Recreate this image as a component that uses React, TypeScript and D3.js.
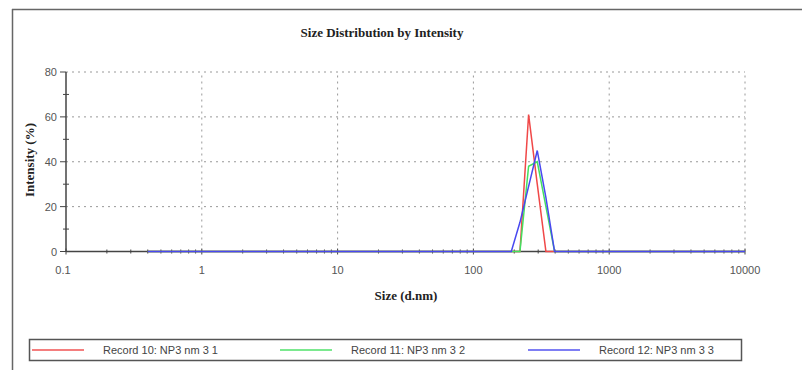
import React from "react";
import * as d3 from "d3";

const sizes = [0.4, 0.4632, 0.5365, 0.6213, 0.7195, 0.8332, 0.9649, 1.117, 1.294, 1.499,
  1.736, 2.01, 2.328, 2.696, 3.122, 3.615, 4.187, 4.849, 5.615, 6.503,
  7.531, 8.721, 10.1, 11.7, 13.54, 15.69, 18.17, 21.04, 24.36, 28.21,
  32.67, 37.84, 43.82, 50.75, 58.77, 68.06, 78.82, 91.28, 105.7, 122.4,
  141.8, 164.2, 190.1, 220.2, 255.0, 295.3, 342.0, 396.1, 458.7, 531.2,
  615.1, 712.4, 825.0, 955.4, 1106, 1281, 1484, 1718, 1990, 2305,
  2669, 3091, 3580, 4145, 4801, 5560, 6439, 7456, 8635, 10000];

const record10 = [0, 0, 0, 0, 0, 0, 0, 0, 0, 0,
  0, 0, 0, 0, 0, 0, 0, 0, 0, 0,
  0, 0, 0, 0, 0, 0, 0, 0, 0, 0,
  0, 0, 0, 0, 0, 0, 0, 0, 0, 0,
  0, 0, 0, 0, 61, 30, 0, 0, 0, 0,
  0, 0, 0, 0, 0, 0, 0, 0, 0, 0,
  0, 0, 0, 0, 0, 0, 0, 0, 0, 0];

const record11 = [0, 0, 0, 0, 0, 0, 0, 0, 0, 0,
  0, 0, 0, 0, 0, 0, 0, 0, 0, 0,
  0, 0, 0, 0, 0, 0, 0, 0, 0, 0,
  0, 0, 0, 0, 0, 0, 0, 0, 0, 0,
  0, 0, 0, 0, 38, 40, 20, 0, 0, 0,
  0, 0, 0, 0, 0, 0, 0, 0, 0, 0,
  0, 0, 0, 0, 0, 0, 0, 0, 0, 0];

const record12 = [0, 0, 0, 0, 0, 0, 0, 0, 0, 0,
  0, 0, 0, 0, 0, 0, 0, 0, 0, 0,
  0, 0, 0, 0, 0, 0, 0, 0, 0, 0,
  0, 0, 0, 0, 0, 0, 0, 0, 0, 0,
  0, 0, 0, 13, 29, 45, 24, 0, 0, 0,
  0, 0, 0, 0, 0, 0, 0, 0, 0, 0,
  0, 0, 0, 0, 0, 0, 0, 0, 0, 0];

const seriesNames = ["Record 10: NP3 nm 3 1", "Record 11: NP3 nm 3 2", "Record 12: NP3 nm 3 3"];
const seriesColors = ["#f04848", "#44e060", "#4848f0"];
const xTicks = [0.1, 1, 10, 100, 1000, 10000];
const xTickLabels = ["0.1", "1", "10", "100", "1000", "10000"];
const yTicks = [0, 20, 40, 60, 80];
const yMinorTicks = [10, 30, 50, 70];

export default function App() {
  const x = d3.scaleLog().domain([0.1, 10000]).range([66, 745]);
  const y = d3.scaleLinear().domain([0, 80]).range([251.5, 72]);
  const allSeries = [record10, record11, record12];
  const line = d3.line<[number, number]>().x((d) => x(d[0])).y((d) => y(d[1]));

  const minorX: number[] = [];
  for (let dec = 0.1; dec < 10000; dec *= 10) {
    for (let m = 2; m <= 9; m++) minorX.push(Math.round(dec * m * 1000) / 1000);
  }

  const sans = "'Liberation Sans', Arial, sans-serif";
  const serif = "'Liberation Serif', 'Times New Roman', serif";
  const legendX = [32, 280, 528];

  return (
    <div style={{ position: "absolute", left: 0, top: 0 }}>
      <svg width={802} height={370} style={{ display: "block", background: "#fff" }}>
        {/* frame */}
        <line x1={12.5} x2={12.5} y1={9} y2={370} stroke="#666" strokeWidth={1.5} />
        <line x1={12} x2={802} y1={9.5} y2={9.5} stroke="#666" strokeWidth={1.5} />

        <text x={382} y={37} textAnchor="middle" fontFamily={serif} fontWeight="bold" fontSize={13} fill="#222">
          Size Distribution by Intensity
        </text>

        {/* grid */}
        {yTicks.filter((t) => t > 0).map((t) => (
          <line key={"gy" + t} x1={66} x2={745} y1={y(t)} y2={y(t)} stroke="#999" strokeWidth={1} strokeDasharray="2,4" />
        ))}
        {xTicks.filter((t) => t > 0.1).map((t) => (
          <line key={"gx" + t} x1={x(t)} x2={x(t)} y1={y(0)} y2={y(80)} stroke="#999" strokeWidth={1} strokeDasharray="2,4" />
        ))}

        {/* axes */}
        <line x1={66} x2={66} y1={y(80)} y2={y(0)} stroke="#444" strokeWidth={1.5} />
        <line x1={66} x2={745} y1={y(0)} y2={y(0)} stroke="#444" strokeWidth={1.5} />
        {yTicks.map((t) => (
          <g key={"yt" + t}>
            <line x1={60} x2={66} y1={y(t)} y2={y(t)} stroke="#444" strokeWidth={1} />
            <text x={57} y={y(t) + 4} textAnchor="end" fontFamily={sans} fontSize={11} fill="#555">{t}</text>
          </g>
        ))}
        {yMinorTicks.map((t) => (
          <line key={"ym" + t} x1={63} x2={69} y1={y(t)} y2={y(t)} stroke="#444" strokeWidth={1} />
        ))}
        {minorX.map((t, i) => (
          <line key={"xm" + i} x1={x(t)} x2={x(t)} y1={y(0) - 2} y2={y(0) + 2} stroke="#444" strokeWidth={1} />
        ))}
        {xTicks.map((t, i) => (
          <g key={"xt" + t}>
            <line x1={x(t)} x2={x(t)} y1={y(0) - 3} y2={y(0) + 3} stroke="#444" strokeWidth={1} />
            <text x={x(t) - (i === 0 ? 3 : 0)} y={274} textAnchor="middle" fontFamily={sans} fontSize={11} fill="#555">{xTickLabels[i]}</text>
          </g>
        ))}

        {/* series */}
        {allSeries.map((vals, si) => (
          <path key={"s" + si} d={line(sizes.map((s, i) => [s, vals[i]] as [number, number])) || ""}
            fill="none" stroke={seriesColors[si]} strokeWidth={1.5} />
        ))}

        <text x={406} y={300} textAnchor="middle" fontFamily={serif} fontWeight="bold" fontSize={13} fill="#222">
          Size (d.nm)
        </text>
        <text transform="translate(34,160) rotate(-90)" textAnchor="middle" fontFamily={serif} fontWeight="bold" fontSize={13} fill="#222">
          Intensity (%)
        </text>

        {/* legend */}
        <defs>
          <clipPath id="legclip"><rect x={29.5} y={339.5} width={712} height={21} /></clipPath>
        </defs>
        <rect x={29.5} y={339.5} width={712} height={21} fill="none" stroke="#555" strokeWidth={1.5} />
        <g clipPath="url(#legclip)">
          {seriesNames.map((n, i) => (
            <g key={"lg" + i}>
              <line x1={legendX[i]} x2={legendX[i] + 52} y1={350} y2={350} stroke={seriesColors[i]} strokeWidth={2} opacity={0.7} />
              <text x={legendX[i] + 71} y={354} fontFamily={sans} fontSize={11} fill="#444">{n}</text>
            </g>
          ))}
        </g>
      </svg>
    </div>
  );
}
